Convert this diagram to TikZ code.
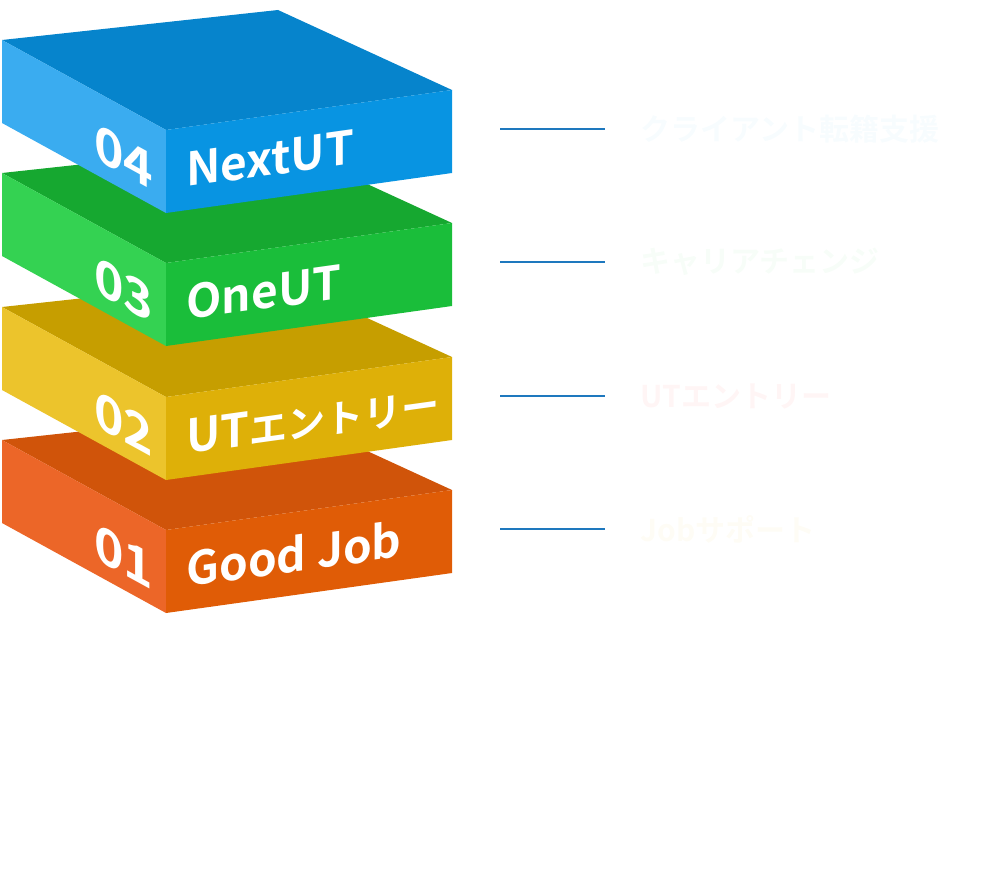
\documentclass[tikz,border=0pt]{standalone}
\usepackage{fontspec}
\setmainfont{Noto Sans CJK JP}[BoldFont={Noto Sans CJK JP Bold}, Numbers=Lining]
\usetikzlibrary{positioning}
\definecolor{nexttop}{RGB}{6, 132, 204}
\definecolor{nextleft}{RGB}{58, 172, 240}
\definecolor{nextfront}{RGB}{8, 148, 226}
\definecolor{onetop}{RGB}{22, 168, 48}
\definecolor{oneleft}{RGB}{52, 210, 82}
\definecolor{onefront}{RGB}{26, 190, 58}
\definecolor{entrytop}{RGB}{198, 158, 0}
\definecolor{entryleft}{RGB}{236, 196, 44}
\definecolor{entryfront}{RGB}{222, 176, 8}
\definecolor{jobtop}{RGB}{208, 84, 10}
\definecolor{jobleft}{RGB}{236, 102, 40}
\definecolor{jobfront}{RGB}{224, 92, 6}
\definecolor{tickcolor}{RGB}{30, 120, 190}
\tikzstyle{nametext} = [
    text=white,
    font=\fontsize{23}{23}\selectfont\bfseries,
    inner sep=0pt,
    anchor=base west,
    yslant=0.14
]
\tikzstyle{numtext} = [
    text=white,
    font=\fontsize{25}{25}\selectfont\bfseries,
    inner sep=0pt,
    anchor=base west,
    yslant=-0.55
]
\tikzstyle{tickline} = [
    draw=tickcolor,
    line width=1pt,
    shorten >=17.5pt
]
\tikzstyle{desctext} = [
    font=\fontsize{15}{15}\selectfont\bfseries,
    inner sep=0pt,
    anchor=west
]

\begin{document}
\begin{tikzpicture}[x=0.5pt, y=-0.5pt]

\useasboundingbox (0, 0) rectangle (1000, 883);

% Slab 1: Good Job
\begin{scope}[shift={(0, 400)}]
\fill[jobtop] (2, 40) -- (278, 10) -- (452, 90) -- (166, 130) -- cycle;
\fill[jobleft] (2, 40) -- (166, 130) -- (166, 213) -- (2, 123) -- cycle;
\fill[jobfront] (166, 130) -- (452, 90) -- (452, 173) -- (166, 213) -- cycle;
\node[numtext] (num1) at (94, 158) {01};
\node[nametext] (name1) at (186, 187) {Good Job};
\end{scope}

% Slab 2: UT entry
\begin{scope}[shift={(0, 267)}]
\fill[entrytop] (2, 40) -- (278, 10) -- (452, 90) -- (166, 130) -- cycle;
\fill[entryleft] (2, 40) -- (166, 130) -- (166, 213) -- (2, 123) -- cycle;
\fill[entryfront] (166, 130) -- (452, 90) -- (452, 173) -- (166, 213) -- cycle;
\node[numtext] (num2) at (94, 158) {02};
\node[nametext] (name2) at (186, 187) {UT{\fontsize{19}{19}\selectfont エントリー}};
\end{scope}

% Slab 3: OneUT
\begin{scope}[shift={(0, 133)}]
\fill[onetop] (2, 40) -- (278, 10) -- (452, 90) -- (166, 130) -- cycle;
\fill[oneleft] (2, 40) -- (166, 130) -- (166, 213) -- (2, 123) -- cycle;
\fill[onefront] (166, 130) -- (452, 90) -- (452, 173) -- (166, 213) -- cycle;
\node[numtext] (num3) at (94, 158) {03};
\node[nametext] (name3) at (186, 187) {OneUT};
\end{scope}

% Slab 4: NextUT
\fill[nexttop] (2, 40) -- (278, 10) -- (452, 90) -- (166, 130) -- cycle;
\fill[nextleft] (2, 40) -- (166, 130) -- (166, 213) -- (2, 123) -- cycle;
\fill[nextfront] (166, 130) -- (452, 90) -- (452, 173) -- (166, 213) -- cycle;
\node[numtext] (num4) at (94, 158) {04};
\node[nametext] (name4) at (186, 187) {NextUT};

% Descriptions
\coordinate (tick4) at (500, 129);
\coordinate (tick3) at (500, 262);
\coordinate (tick2) at (500, 396);
\coordinate (tick1) at (500, 529);
\node[desctext, text=nextleft!4] (desc4) at (640, 129) {クライアント転籍支援};
\node[desctext, text=oneleft!4] (desc3) at (640, 262) {キャリアチェンジ};
\node[desctext, text=red!4] (desc2) at (640, 396) {UTエントリー};
\node[desctext, text=entryleft!5] (desc1) at (640, 529) {Jobサポート};
\draw[tickline] (tick4) -- (desc4.west |- tick4);
\draw[tickline] (tick3) -- (desc3.west |- tick3);
\draw[tickline] (tick2) -- (desc2.west |- tick2);
\draw[tickline] (tick1) -- (desc1.west |- tick1);

\end{tikzpicture}
\end{document}
